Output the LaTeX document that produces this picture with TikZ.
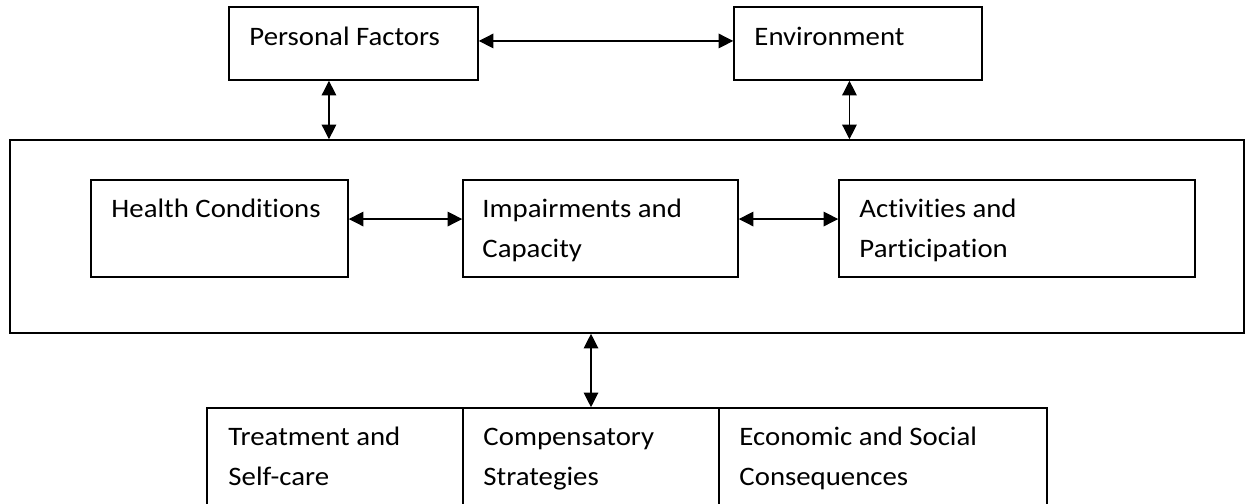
\documentclass[tikz,border=0pt]{standalone}
\usepackage{fontspec}
\setmainfont[Ligatures=NoCommon, FakeStretch=1.08]{Carlito}
\usetikzlibrary{fit,arrows.meta}
\begin{document}
\begin{tikzpicture}[x=0.75pt, y=-0.75pt,
  box/.style={draw, line width=1.2pt, inner sep=0pt},
  lbl/.style={anchor=base west, align=left, inner sep=0pt, font=\fontsize{20}{30}\selectfont},
  dbl/.style={{Triangle[length=11pt,width=11pt]}-{Triangle[length=11pt,width=11pt]}, line width=0.9pt}]
\useasboundingbox (0,0) rectangle (1245,503);
%top row
\node[box, fit={(229,7) (478,80)}] (pf) {};
\node[box, fit={(734,7) (982,80)}] (env) {};
\node[lbl] (pf-t) at ([shift={(21,39)}]pf.north west) {Personal Factors};
\node[lbl] (env-t) at ([shift={(21,39)}]env.north west) {Environment};

%middle
\node[box, fit={(10,140) (1244,333)}] (big) {};
\node[box, fit={(91,180) (348,277)}] (hc) {};
\node[box, fit={(463,180) (738,277)}] (ic) {};
\node[box, fit={(839,180) (1195,277)}] (ap) {};
\node[lbl] (hc-t) at ([shift={(21,38)}]hc.north west) {Health Conditions};
% two lines: base is on the last line
\node[lbl] (ic-t) at ([shift={(20,78)}]ic.north west) {Impairments and\\Capacity};
\node[lbl] (ap-t) at ([shift={(21,78)}]ap.north west) {Activities and\\Participation};

%bottom row
\node[box, fit={(207,408) (463,512)}] (tsc) {};
\node[box, fit={(463,408) (719,512)}] (cs) {};
\node[box, fit={(719,408) (1047,512)}] (esc) {};
\node[lbl] (tsc-t) at ([shift={(22,78)}]tsc.north west) {Treatment and\\Self-care};
\node[lbl] (cs-t) at ([shift={(21,78)}]cs.north west) {Compensatory\\Strategies};
\node[lbl] (esc-t) at ([shift={(21,78)}]esc.north west) {Economic and Social\\Consequences};

\draw[dbl] ([yshift=1.9pt]pf.east) -- ([yshift=1.9pt]pf.east -| env.west);
\draw[dbl] ([xshift=-18.4pt]pf.south) -- ([xshift=-18.4pt]pf.south |- big.north);
\draw[dbl] ([xshift=-6.4pt]env.south) -- ([xshift=-6.4pt]env.south |- big.north);
\draw[dbl] ([yshift=7.1pt]hc.east) -- ([yshift=7.1pt]hc.east -| ic.west);
\draw[dbl] ([yshift=7.1pt]ic.east) -- ([yshift=7.1pt]ic.east -| ap.west);
\draw[dbl] (cs.north |- big.south) -- (cs.north);
\end{tikzpicture}
\end{document}
